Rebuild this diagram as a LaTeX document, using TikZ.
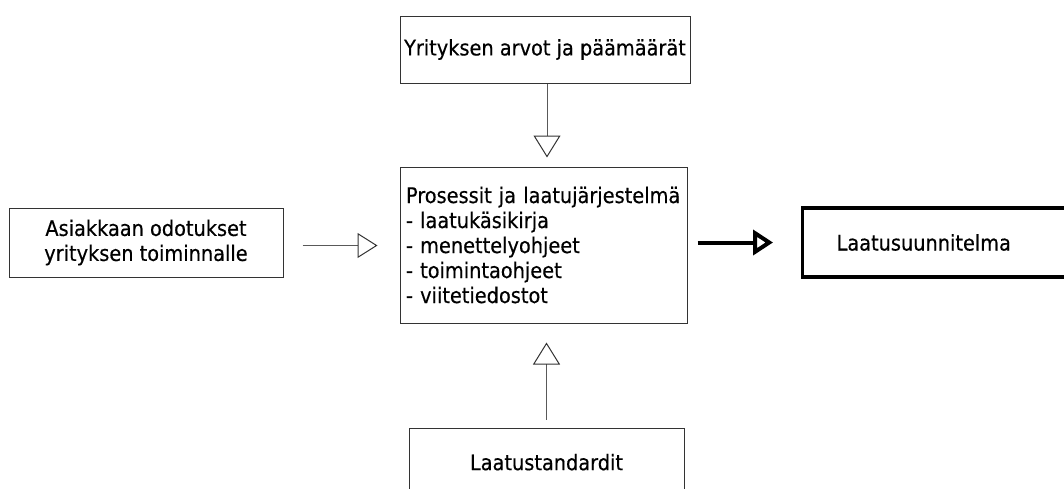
\documentclass[tikz,border=0pt]{standalone}
\usepackage{fontspec}
\setmainfont{DejaVu Sans Condensed}[FakeBold=0.4]
\usetikzlibrary{arrows.meta}
\begin{document}
\begin{tikzpicture}[x=1pt,y=-1pt,
  box/.style={draw=black!80,line width=1pt,rectangle,inner sep=0pt,font=\fontsize{21.5}{25}\selectfont},
  thickbox/.style={draw=black,line width=3.2pt,rectangle,inner sep=0pt,font=\fontsize{21.5}{25}\selectfont},
  openarrow/.style={draw=black!65,line width=1pt,-{Triangle[open,length=22pt,width=27pt,color=black!80]}},
  boldarrow/.style={draw=black,line width=4pt,-{Triangle[open,length=20pt,width=25pt]}}]
\useasboundingbox (0,0) rectangle (1064,488);
\clip (0,0) rectangle (1064,488);
\node[box,minimum width=290pt,minimum height=67pt] (top) at (545,49.5) {Yrityksen arvot ja päämäärät};
\node[box,minimum width=287pt,minimum height=156pt,align=left,text width=275pt] (mid) at (543.5,245) {Prosessit ja laatujärjestelmä\\- laatukäsikirja\\- menettelyohjeet\\- toimintaohjeet\\- viitetiedostot};
\node[box,minimum width=274pt,minimum height=69pt,align=center] (left) at (146,242.5) {Asiakkaan odotukset\\yrityksen toiminnalle};
\node[thickbox,minimum width=274pt,minimum height=69pt,anchor=west,text width=206pt,align=left] (right) at (801,242.5) {Laatusuunnitelma};
\node[box,minimum width=275pt,minimum height=80pt,text depth=0pt] (bot) at (546.5,468) {\raisebox{12pt}{Laatustandardit}};
\draw[openarrow,shorten >=9pt] ([xshift=2pt]top.south) -- ([xshift=2pt]top.south |- mid.north);
\draw[openarrow,shorten <=8pt,shorten >=19pt] (bot.north) -- (bot.north |- mid.south);
\draw[openarrow,shorten <=19pt,shorten >=22pt,-{Triangle[open,length=20pt,width=25pt,color=black!80]}] ([yshift=-3pt]left.east) -- ([yshift=-3pt]left.east -| mid.west);
\draw[boldarrow,shorten <=10pt,shorten >=28pt] (mid.east |- right.west) -- (right.west);
\end{tikzpicture}
\end{document}
